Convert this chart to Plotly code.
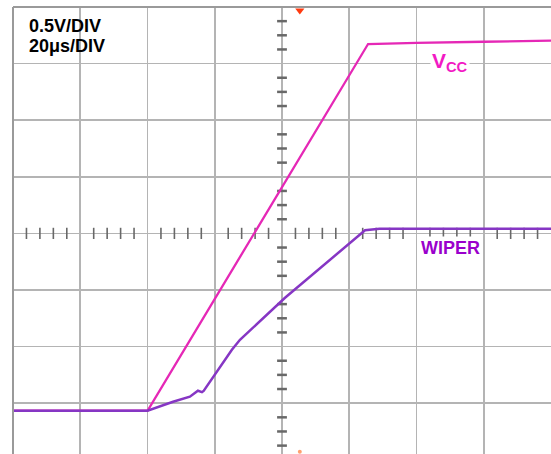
import numpy as np
import plotly.graph_objects as go

# ---- data (time in us, voltage in V) ----
vcc_t = [-80, -60, -40, 25.6, 30, 40, 60, 80]
vcc_v = [0.0, 0.0, 0.0, 3.24, 3.245, 3.25, 3.26, 3.27]

wiper_t = [-80, -60, -40, -32.4, -27.4, -25.0, -23.8, -23.3, -21.4, -19.3,
           -16.9, -14.9, -12.5, 0.9, 24.7, 29.0, 50, 80]
wiper_v = [0.0, 0.0, 0.0, 0.08, 0.124, 0.177, 0.165, 0.175, 0.256, 0.345,
           0.45, 0.539, 0.627, 0.998, 1.595, 1.607, 1.607, 1.607]

scale_labels = ["0.5V/DIV", "20\u03bcs/DIV"]
vcc_label = "V<sub>CC</sub>"
wiper_label = "WIPER"

# ---- screen geometry ----
T_DIV = 20.0
V_DIV = 0.5
V_BOTTOM = -0.433              # voltage at lowest graticule line
X_RANGE = [-80, 80]
Y_RANGE = [-0.382, V_BOTTOM + 8 * V_DIV]
V_CENTER = V_BOTTOM + 4 * V_DIV

VCC_COLOR = "#E528B6"
VCC_TEXT = "#F21AC4"
WIPER_COLOR = "#8636C4"
WIPER_TEXT = "#9A00CC"
GRID = "#B4B4B4"
FONT = "Liberation Sans, Arial, sans-serif"

fig = go.Figure()

# minor ticks on the centre lines
tx = [t for t in np.arange(-80, 80.1, 4) if abs(t / T_DIV - round(t / T_DIV)) > 1e-6]
fig.add_trace(go.Scatter(
    x=tx, y=[V_CENTER] * len(tx), mode="markers",
    marker=dict(symbol="line-ns", size=8, line=dict(width=1.6, color="#686868")),
    hoverinfo="skip", showlegend=False))
ty = [V_BOTTOM + k * V_DIV / 4 for k in range(0, 33) if k % 4 != 0]
fig.add_trace(go.Scatter(
    x=[0] * len(ty), y=ty, mode="markers",
    marker=dict(symbol="line-ew", size=7, line=dict(width=2.5, color="#686868")),
    hoverinfo="skip", showlegend=False))

# traces
fig.add_trace(go.Scatter(x=vcc_t, y=vcc_v, mode="lines",
                         line=dict(color=VCC_COLOR, width=2.3),
                         hoverinfo="skip", showlegend=False))
fig.add_trace(go.Scatter(x=wiper_t, y=wiper_v, mode="lines",
                         line=dict(color=WIPER_COLOR, width=2.5),
                         hoverinfo="skip", showlegend=False))

# trigger markers
fig.add_trace(go.Scatter(x=[5.3], y=[Y_RANGE[1] - 0.03], mode="markers",
                         marker=dict(symbol="triangle-down", size=8, color="#FF3B10"),
                         cliponaxis=False, hoverinfo="skip", showlegend=False))
fig.add_trace(go.Scatter(x=[5.3], y=[Y_RANGE[0] + 0.02], mode="markers",
                         marker=dict(symbol="circle", size=4, color="#FFA070"),
                         cliponaxis=False, hoverinfo="skip", showlegend=False))

fig.update_layout(
    width=551, height=454,
    margin=dict(l=13, r=0, t=7, b=0),
    paper_bgcolor="white", plot_bgcolor="white",
    hovermode=False,
    xaxis=dict(range=X_RANGE, tick0=0, dtick=T_DIV, showgrid=True,
               gridcolor=GRID, gridwidth=1.7, showticklabels=False,
               zeroline=False, ticks="", showline=False, fixedrange=True),
    yaxis=dict(range=Y_RANGE, tick0=V_BOTTOM, dtick=V_DIV, showgrid=True,
               gridcolor=GRID, gridwidth=1.7, showticklabels=False,
               zeroline=False, ticks="", showline=False, fixedrange=True),
    shapes=[
        dict(type="rect", xref="paper", yref="paper", x0=0.003, x1=0.245,
             y0=0.882, y1=0.996, fillcolor="white", line=dict(width=0),
             layer="between"),
        dict(type="line", xref="paper", yref="paper", x0=0, x1=1, y0=1, y1=1,
             line=dict(color="#9A9A9A", width=2), layer="above"),
        dict(type="line", xref="paper", yref="paper", x0=0, x1=0, y0=0, y1=1,
             line=dict(color="#9A9A9A", width=2), layer="above"),
    ],
    annotations=[
        dict(xref="paper", yref="paper", x=0.026, y=0.9575, xanchor="left",
             yanchor="middle", text="<b>%s</b>" % scale_labels[0], showarrow=False,
             font=dict(family=FONT, size=18, color="black")),
        dict(xref="paper", yref="paper", x=0.026, y=0.9132, xanchor="left",
             yanchor="middle", text="<b>%s</b>" % scale_labels[1], showarrow=False,
             font=dict(family=FONT, size=18, color="black")),
        dict(x=50, y=3.08, text="<b>%s</b>" % vcc_label, showarrow=False,
             bgcolor="white", borderpad=1,
             font=dict(family=FONT, size=21, color=VCC_TEXT)),
        dict(x=50, y=1.44, text="<b>%s</b>" % wiper_label, showarrow=False,
             bgcolor="white", borderpad=1,
             font=dict(family=FONT, size=18, color=WIPER_TEXT)),
    ],
)

fig.write_html(
    "out.html",
    config={"displayModeBar": False, "staticPlot": True},
    post_script="document.body.style.margin='0px';document.body.style.overflow='hidden';",
)
